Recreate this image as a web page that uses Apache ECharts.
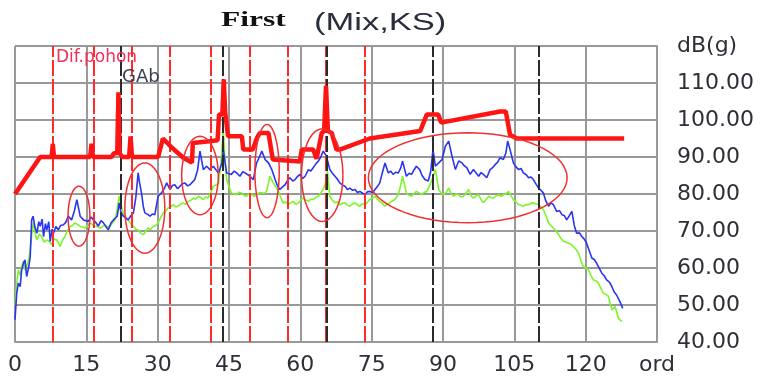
<!DOCTYPE html>
<html>
<head>
<meta charset="utf-8">
<script src="https://cdn.jsdelivr.net/npm/echarts@6/dist/echarts.min.js"></script>
<style>
  html, body { margin: 0; padding: 0; background: #fff; }
  #chart { width: 760px; height: 378px; }
</style>
</head>
<body>
<div id="chart"></div>
<script>
// order axis / level axis ticks
const ordTicks = [0, 15, 30, 45, 60, 75, 90, 105, 120, 135]
const dbTicks = [40, 50, 60, 70, 80, 90, 100, 110, 120]

// harmonic marker lines (ord)
const difPohonOrds = [7.9, 16.5, 24.5, 32.6, 41.2, 49.3, 57.3, 65.4, 73.6]
const gabOrds = [22.3, 43.6, 65.6, 87.8, 110.2]

// thick red limit curve [ord, dB]
const limitLine = [
  [0, 80], [5.3, 90], [7.7, 90], [7.95, 93.5], [8.2, 90], [15.8, 90], [16.1, 93.6], [16.4, 90],
  [20.3, 90], [20.8, 91], [21.5, 91], [21.75, 107.5], [22.0, 91], [22.6, 90], [24.0, 90], [24.3, 95.6],
  [24.6, 90], [30.1, 90], [31.1, 95], [33, 92.5], [35.4, 89.8], [37.2, 88.5], [37.4, 93.8], [41.3, 94.3],
  [42.6, 94.5], [42.9, 101.5], [43.6, 101.5], [43.9, 111], [44.2, 102], [44.8, 95.6], [47.7, 95.6],
  [48.0, 92], [50.0, 92], [50.9, 95.2], [51.5, 96.5], [53.3, 96.5], [54.2, 89.3], [59.9, 88.8],
  [60.3, 92], [62.7, 92], [63.4, 89.5], [64.5, 96.5], [65.0, 97], [65.4, 109.2], [65.8, 97],
  [66.6, 96.5], [67.6, 92], [68.3, 92], [74.6, 95], [85.2, 97], [85.6, 97.3], [86.6, 101.5],
  [89.0, 101.5], [89.6, 99.3], [102.0, 102.3], [103.2, 102.3], [104.1, 96], [105.5, 95], [128.1, 95]
]

// blue measured curve [ord, dB]
const blueLine = [
  [0, 46], [0.35, 53], [0.7, 55.9], [1.1, 55], [1.4, 59.5], [1.8, 61.3], [2.1, 62.2], [2.45, 57.7],
  [2.9, 60.4], [3.2, 63], [3.5, 73], [3.8, 74], [4.2, 71], [4.6, 69.4], [5.0, 72.5], [5.3, 71.3],
  [5.7, 73.2], [6.0, 68.5], [6.4, 72], [6.7, 70.3], [7.1, 72.5], [7.4, 67.2], [7.8, 70.5], [8.1, 69.4],
  [8.6, 71.2], [9.1, 70.3], [9.6, 71.5], [10.2, 71.7], [10.7, 72.4], [11.2, 74], [11.9, 73], [12.5, 75.5],
  [13, 78.5], [13.4, 76], [13.7, 74], [14.4, 73], [15.4, 72.6], [16.0, 73.8], [16.5, 73], [17.0, 72.3],
  [17.5, 71.3], [18.1, 72.8], [18.6, 72.2], [19.1, 71.2], [19.6, 70.3], [20.2, 72.2], [20.7, 73],
  [21.5, 74], [21.9, 77.6], [22.3, 75], [22.8, 74], [23.3, 73.5], [23.8, 73], [24.4, 74.2], [24.9, 74.9],
  [25.4, 79], [25.9, 85.7], [26.2, 83], [26.6, 80.3], [27.0, 76.5], [27.3, 74.9], [27.9, 74.5],
  [28.4, 74], [28.9, 74.6], [29.4, 74.4], [30.1, 79.4], [30.8, 80.3], [31.4, 81.5], [31.9, 83],
  [32.6, 81.2], [33.1, 82.3], [33.6, 82.5], [34.2, 81.4], [34.7, 82.1], [35.2, 82.8], [35.7, 83],
  [36.3, 82.2], [36.8, 82.5], [37.3, 83.2], [37.8, 83.9], [38.4, 86.5], [38.9, 91.6], [39.6, 86.6],
  [40.3, 87.5], [41, 86.6], [41.7, 87.5], [42.3, 86.5], [42.8, 85.7], [43.5, 88.4], [43.8, 92],
  [44.5, 85.7], [45.5, 85.3], [46.1, 86.2], [46.6, 85.7], [47.3, 84.8], [47.9, 86], [48.4, 85.7],
  [49.4, 84.8], [50.1, 83.9], [50.8, 88.4], [51.4, 90], [51.9, 91.6], [52.6, 89.3], [53.3, 88.4],
  [54, 86.6], [54.7, 83.9], [55.2, 82.2], [55.7, 81.2], [56.3, 82], [56.8, 82.5], [57.3, 83.6],
  [57.8, 84.4], [58.4, 83.5], [58.9, 83.9], [59.4, 84.7], [59.9, 85.3], [60.5, 84.2], [61, 84.8],
  [61.7, 86.6], [62.2, 86.2], [62.7, 87.1], [63.3, 88.2], [63.8, 88.9], [64.3, 90], [64.8, 91.6],
  [65.5, 90.2], [66.2, 86.6], [66.8, 85.5], [67.3, 84.8], [67.8, 84], [68.3, 83], [68.9, 82.4],
  [69.4, 82.1], [69.9, 81.2], [70.4, 81.6], [71, 81], [71.5, 81.2], [72, 80.4], [72.5, 80.7],
  [73.1, 80.2], [73.6, 79.8], [74.1, 80.6], [74.6, 80.7], [75.2, 80.4], [75.7, 81.2], [76.2, 82],
  [76.7, 83], [77.3, 86], [77.8, 88.4], [78.5, 85.7], [79, 86.2], [79.5, 85.3], [80.1, 85.9],
  [80.6, 85.7], [81.1, 87], [81.5, 88.9], [82.3, 84.8], [82.9, 85.6], [83.4, 85.3], [83.9, 86.5],
  [84.4, 87.5], [85.1, 86.6], [85.6, 85], [86.2, 83.9], [86.9, 83.5], [87.4, 86], [87.9, 92],
  [88.4, 87.5], [89.1, 88.4], [89.8, 89.3], [90.5, 92.9], [91.2, 94.3], [91.9, 90.2], [92.6, 86.6],
  [93.3, 88.9], [94, 88.4], [94.5, 87.6], [95, 87.1], [95.7, 85.3], [96.4, 86.6], [97, 85.6],
  [97.5, 84.8], [98, 85.8], [98.5, 85.3], [99.2, 84.4], [99.9, 86.6], [100.5, 87.2], [101, 88],
  [101.5, 88.6], [102, 89.8], [102.7, 89.3], [103.2, 91], [103.6, 94.3], [104.1, 92], [104.8, 88.4],
  [105.3, 87.4], [105.9, 86.6], [106.4, 86.9], [106.9, 85.7], [107.5, 85.2], [108, 84.4],
  [108.5, 84.6], [109, 83.9], [109.6, 82.6], [110.1, 81.6], [110.6, 81], [111.1, 80.3], [111.6, 78.2],
  [112.2, 76.7], [112.7, 77.6], [113.2, 77.1], [113.9, 75.3], [114.5, 75.5], [115, 74.4],
  [115.5, 74.2], [116, 73], [116.5, 74], [117.1, 75.3], [117.6, 71.5], [118.1, 69.4], [118.7, 69.5],
  [119.2, 68.5], [119.7, 67.8], [120.2, 66.7], [120.8, 64.5], [121.3, 62.7], [121.8, 62.3],
  [122.3, 61.3], [122.9, 59.8], [123.4, 58.6], [123.9, 57.9], [124.4, 56.8], [125, 56.2], [125.5, 55],
  [126, 53.5], [126.5, 52.7], [127.2, 50.9], [127.8, 49.1]
]

// green measured curve [ord, dB]
const greenLine = [
  [0, 50], [0.3, 55], [0.7, 59.5], [1.1, 58], [1.4, 60.5], [1.75, 61.8], [2.1, 59.5], [2.45, 60.4],
  [2.9, 62.5], [3.2, 64.9], [3.6, 70], [3.9, 72.2], [4.3, 69], [4.6, 67.6], [5.1, 69.2], [5.6, 68.5],
  [6.1, 67], [6.7, 67.6], [7.2, 67.2], [7.7, 66.3], [8.2, 67.8], [8.8, 67.6], [9.2, 66.5], [9.5, 65.8],
  [10, 67.5], [10.5, 68.5], [11, 70], [11.6, 71.3], [12.1, 71.5], [12.6, 72.2], [13.2, 71.7],
  [13.7, 71.3], [14.2, 71], [14.7, 70.8], [15.3, 71.5], [15.8, 72.2], [16.3, 71.7], [16.8, 71.3],
  [17.3, 71.2], [17.9, 70.8], [18.4, 71.2], [18.9, 71.7], [19.4, 71.1], [20, 71.3], [20.5, 72.2],
  [21, 73], [21.5, 76], [21.9, 79.4], [22.4, 76.5], [22.8, 74.9], [23.3, 73.8], [23.8, 73], [24.4, 72],
  [24.9, 71.3], [25.4, 70.5], [25.9, 70.3], [26.4, 69.5], [27, 69], [27.5, 70], [28, 70.8],
  [28.5, 70.4], [29.1, 71.3], [29.6, 71.5], [30.1, 72.2], [30.7, 73.8], [31.2, 74.9], [31.7, 75.4],
  [32.2, 76.2], [32.7, 76.5], [33.3, 77.1], [33.8, 76.5], [34.3, 76.7], [34.9, 77.3], [35.4, 77.6],
  [35.9, 77.2], [36.4, 78], [37, 78.3], [37.5, 78.9], [38, 78.6], [38.6, 79.4], [39.1, 79],
  [39.6, 78.5], [40.1, 79.2], [40.6, 78.9], [41.2, 80.5], [41.7, 82.1], [42.3, 82.4], [42.8, 83],
  [43.3, 88], [43.8, 97.4], [44.2, 88], [44.5, 83.9], [45, 82], [45.5, 80.3], [46.1, 80], [46.6, 79.8],
  [47.1, 80.5], [47.6, 80.3], [48.2, 79.6], [48.7, 79.4], [49.2, 80.2], [49.8, 79.8], [50.3, 79.4],
  [50.8, 79.8], [51.4, 80.4], [51.9, 80.3], [52.4, 80.2], [52.9, 80.7], [53.6, 84.8], [54.3, 83],
  [54.9, 81.8], [55.4, 80.7], [55.9, 79], [56.4, 77.6], [57, 77.8], [57.5, 77.1], [58, 77.6],
  [58.5, 78], [59.1, 77.2], [59.6, 77.6], [60.1, 78.4], [60.6, 78.9], [61.2, 78.3], [61.7, 78],
  [62.2, 78.6], [62.7, 78.5], [63.3, 79.1], [63.8, 79.4], [64.3, 80.3], [64.8, 81.2], [65.3, 83],
  [65.7, 86.2], [66.2, 79.4], [66.8, 78.2], [67.3, 77.6], [67.8, 77.9], [68.3, 77.1], [68.9, 77.5],
  [69.4, 77.6], [69.9, 77], [70.4, 76.7], [71, 77.3], [71.5, 77.6], [72, 77.1], [72.5, 76.7],
  [73.1, 77.4], [73.6, 77.1], [74.1, 77.8], [74.6, 78.5], [75.2, 79], [75.7, 79.4], [76.2, 78.6],
  [76.7, 78], [77.3, 77.4], [77.8, 76.7], [78.3, 77.3], [78.8, 77.6], [79.4, 78.2], [79.9, 78.5],
  [80.4, 79.5], [80.9, 81.2], [81.5, 84.8], [82.3, 80.3], [82.9, 79.6], [83.4, 79.4], [83.9, 80.2],
  [84.4, 80.7], [85, 80.3], [85.5, 79.8], [86, 80.4], [86.6, 80.7], [87.1, 82], [87.7, 83.9],
  [88.4, 86.6], [89.1, 81.2], [89.6, 80.3], [90.1, 79.8], [90.7, 80.5], [91.2, 81.6], [91.7, 80.2],
  [92.2, 79.4], [92.8, 80], [93.3, 79.8], [93.8, 79.2], [94.3, 79.4], [94.9, 80.3], [95.4, 81.2],
  [95.9, 79.5], [96.4, 78.9], [97, 79.5], [97.5, 79.8], [98, 78.5], [98.5, 77.6], [99.1, 78.6],
  [99.6, 79.4], [100.1, 79], [100.6, 78.9], [101.2, 79.5], [101.7, 79.8], [102.2, 79.4], [102.7, 79.8],
  [103.3, 80.2], [103.8, 80.7], [104.3, 79.5], [104.8, 78.5], [105.4, 77.8], [105.9, 77.1], [106.4, 77],
  [106.9, 76.7], [107.5, 77.2], [108, 77.1], [108.5, 77.5], [109, 77.6], [109.6, 77.3], [110.1, 77.1],
  [110.6, 76.5], [111.1, 75.8], [111.7, 74], [112.2, 72.2], [112.7, 71.5], [113.2, 70.8], [113.8, 70],
  [114.3, 69], [114.8, 68], [115.3, 67.2], [115.9, 67], [116.4, 66.7], [116.9, 66.5], [117.4, 65.8],
  [118, 65], [118.5, 64], [119, 62], [119.5, 60.4], [120.1, 60], [120.6, 59.5], [121.1, 58],
  [121.6, 56.8], [122.2, 56.5], [122.7, 55.9], [123.2, 54.5], [123.7, 53.2], [124.3, 52.8],
  [124.8, 52.3], [125.5, 48.7], [126.2, 49.6], [126.9, 46.4], [127.6, 45.5]
]

// hand-drawn rings: [center ord, center dB, half width ord, half height dB]
const rings = [
  [13.45, 74, 2.3, 8.1],
  [27.3, 76.2, 4.2, 12.2],
  [38.9, 85, 3.85, 10.6],
  [53.0, 86.2, 2.56, 12.6],
  [64.6, 85.1, 4.35, 12.5],
  [95.2, 84.4, 20.9, 12.15]
]

const gridColor = '#999999'
const labelFont = 'DejaVu Sans'

const chart = echarts.init(document.getElementById('chart'))

function markerSeries(ords, color) {
  return {
    type: 'line',
    data: [],
    silent: true,
    z: 2,
    markLine: {
      silent: true,
      symbol: ['none', 'none'],
      animation: false,
      label: { show: false },
      lineStyle: { color: color, width: 2, type: [16, 3] },
      data: ords.map(v => ({ xAxis: v }))
    }
  }
}

chart.setOption({
  animation: false,
  grid: { left: 15, right: 103, top: 46, bottom: 36 },
  graphic: [
    {
      type: 'text', x: 221, y: 21, scaleX: 1.5,
      style: { text: 'First', font: 'bold 21px "Liberation Serif"', fill: '#111', textVerticalAlign: 'middle' }
    },
    {
      type: 'text', x: 314, y: 24, scaleX: 1.5,
      style: { text: '(Mix,KS)', font: '23px "Liberation Sans"', fill: '#2a2d3a', textVerticalAlign: 'middle' }
    },
    {
      type: 'text', x: 56, y: 58, z: 10,
      style: { text: 'Dif.pohon', font: '17px "DejaVu Sans"', fill: '#f2305a', textVerticalAlign: 'middle' }
    },
    {
      type: 'text', x: 122, y: 77, z: 10,
      style: { text: 'GAb', font: '18px "DejaVu Sans"', fill: '#3a3f4f', textVerticalAlign: 'middle' }
    }
  ],
  xAxis: {
    type: 'value',
    min: ordTicks[0],
    max: ordTicks[ordTicks.length - 1],
    interval: 15,
    axisLine: { show: true, onZero: false, lineStyle: { color: gridColor, width: 2 } },
    axisTick: { show: false },
    splitLine: { show: true, showMinLine: true, showMaxLine: true, lineStyle: { color: gridColor, width: 2 } },
    axisLabel: {
      margin: 12,
      fontFamily: labelFont,
      fontSize: 22,
      color: '#2f2f38',
      formatter: v => (v === 135 ? 'ord' : String(v))
    }
  },
  yAxis: {
    type: 'value',
    position: 'right',
    min: dbTicks[0],
    max: dbTicks[dbTicks.length - 1],
    interval: 10,
    axisLine: { show: true, onZero: false, lineStyle: { color: gridColor, width: 2 } },
    axisTick: { show: false },
    splitLine: { show: true, showMinLine: true, showMaxLine: true, lineStyle: { color: gridColor, width: 2 } },
    axisLabel: {
      margin: 20,
      fontFamily: labelFont,
      fontSize: 22,
      color: '#2f2f38',
      formatter: v => (v === 120 ? 'dB(g)' : v.toFixed(2))
    }
  },
  series: [
    markerSeries(difPohonOrds, '#ff2a2a'),
    markerSeries(gabOrds, '#2a2a2a'),
    {
      type: 'line',
      data: greenLine,
      showSymbol: false,
      lineStyle: { color: '#7cf52a', width: 1.6 },
      z: 3
    },
    {
      type: 'line',
      data: blueLine,
      showSymbol: false,
      lineStyle: { color: '#2b35f0', width: 1.6 },
      z: 4
    },
    {
      type: 'line',
      data: limitLine,
      showSymbol: false,
      lineStyle: { color: '#ff1414', width: 4.5 },
      z: 5
    },
    {
      type: 'custom',
      data: rings,
      z: 6,
      silent: true,
      renderItem: function(params, api) {
        const cx = api.value(0)
        const cy = api.value(1)
        const rx = api.value(2)
        const ry = api.value(3)
        const points = []
        for (let k = 0; k <= 72; k++) {
          const a = (k / 72) * Math.PI * 2
          points.push(api.coord([cx + rx * Math.cos(a), cy + ry * Math.sin(a)]))
        }
        return {
          type: 'polyline',
          shape: { points: points },
          style: { stroke: '#f03030', fill: null, lineWidth: 1.5 }
        }
      }
    }
  ]
})
</script>
</body>
</html>
